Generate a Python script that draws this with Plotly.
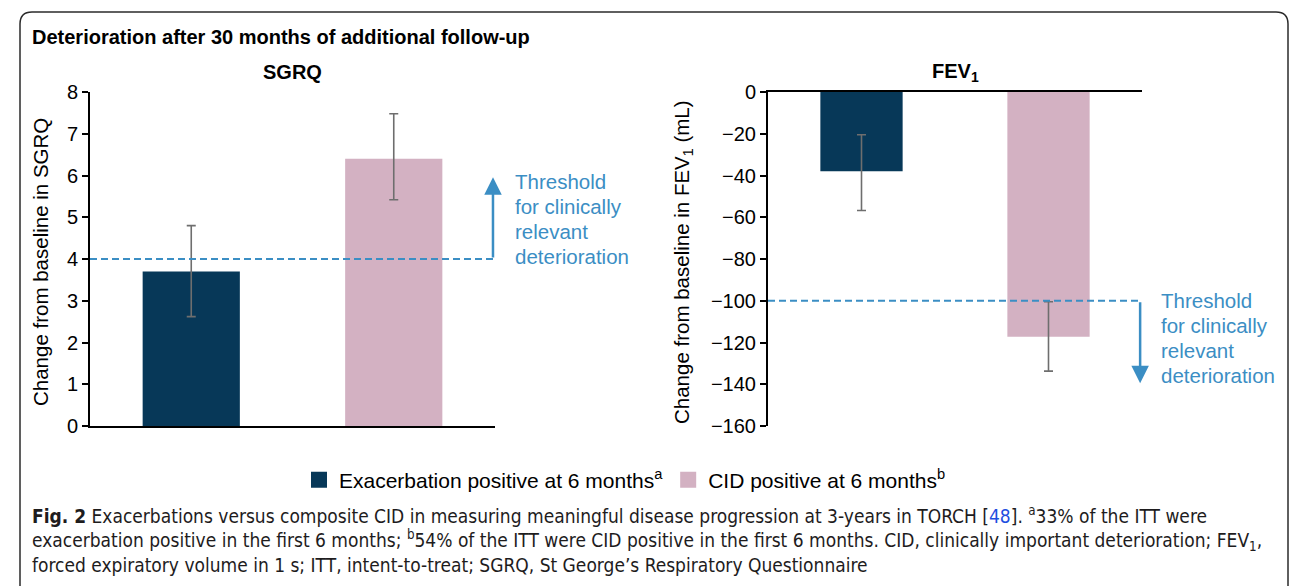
import plotly.graph_objects as go

# ---------------- data ----------------
groups = ["Exacerbation positive at 6 months", "CID positive at 6 months"]
legend_labels = ["Exacerbation positive at 6 months<sup>a</sup>", "CID positive at 6 months<sup>b</sup>"]
colors = ["#073858", "#D3B1C2"]

sgrq_values = [3.7, 6.4]
sgrq_ci_low = [2.62, 5.42]
sgrq_ci_high = [4.80, 7.48]

fev_values = [-38.0, -117.3]
fev_ci_low = [-56.8, -133.7]
fev_ci_high = [-20.5, -100.5]

sgrq_threshold = 4
fev_threshold = -100
sgrq_ticks = [0, 1, 2, 3, 4, 5, 6, 7, 8]
fev_ticks = [0, -20, -40, -60, -80, -100, -120, -140, -160]

W, H = 1290, 586
def px(x):
    return x / W
def py(y):
    return 1 - y / H

BLUE = "#3B8EC4"
FONT = "Liberation Sans, Arial, sans-serif"
CAPFONT = "DejaVu Sans Condensed, Liberation Sans Narrow, Arial Narrow, sans-serif"

fig = go.Figure()

for i, g in enumerate(groups):
    fig.add_trace(go.Bar(
        x=[g], y=[sgrq_values[i]], width=0.48, marker=dict(color=colors[i], line=dict(width=0)),
        error_y=dict(type="data", symmetric=False,
                     array=[sgrq_ci_high[i] - sgrq_values[i]],
                     arrayminus=[sgrq_values[i] - sgrq_ci_low[i]],
                     color="#6E6E6E", thickness=1.6, width=4.5),
        xaxis="x", yaxis="y", showlegend=False, legendgroup=g, name=g))
    fig.add_trace(go.Bar(
        x=[g], y=[fev_values[i]], width=0.44, marker=dict(color=colors[i], line=dict(width=0)),
        error_y=dict(type="data", symmetric=False,
                     array=[fev_ci_high[i] - fev_values[i]],
                     arrayminus=[fev_values[i] - fev_ci_low[i]],
                     color="#6E6E6E", thickness=1.6, width=4.5),
        xaxis="x2", yaxis="y2", showlegend=False, legendgroup=g, name=g))

# legend-only entries (bigger square swatches)
for i, g in enumerate(groups):
    fig.add_trace(go.Scatter(
        x=[None], y=[None], mode="markers", name=legend_labels[i], legendgroup=g,
        marker=dict(symbol="square", size=16, color=colors[i]), xaxis="x", yaxis="y"))

axis_common = dict(showgrid=False, zeroline=False, showline=True, linecolor="black",
                   linewidth=2, automargin=False)

fig.update_layout(
    width=W, height=H,
    margin=dict(l=0, r=0, t=0, b=0),
    paper_bgcolor="white", plot_bgcolor="white",
    barmode="overlay",
    font=dict(family=FONT, size=20, color="black"),
    xaxis=dict(domain=[px(90), px(495)], range=[-0.5, 1.5], type="category",
               categoryorder="array", categoryarray=groups,
               showticklabels=False, ticks="", anchor="y", **axis_common),
    yaxis=dict(domain=[py(426), py(92)], range=[0, 8], tickvals=sgrq_ticks,
               ticks="outside", ticklen=6, tickwidth=1.5, tickcolor="black",
               tickfont=dict(size=20), anchor="x", **axis_common),
    xaxis2=dict(domain=[px(768), px(1142)], range=[-0.5, 1.5], type="category",
                categoryorder="array", categoryarray=groups,
                showticklabels=False, ticks="", side="top", anchor="y2", **axis_common),
    yaxis2=dict(domain=[py(426), py(92)], range=[-160, 0], tickvals=fev_ticks,
                ticks="outside", ticklen=6, tickwidth=1.5, tickcolor="black",
                tickfont=dict(size=20), anchor="x2", **axis_common),
    legend=dict(orientation="h", x=px(625), y=py(480), xanchor="center", yanchor="middle",
                font=dict(size=21, family=FONT), bgcolor="rgba(0,0,0,0)",
                itemclick=False, itemdoubleclick=False, tracegroupgap=0),
    showlegend=True,
)

shapes = []
# threshold dashed lines
shapes.append(dict(type="line", xref="x", yref="y", x0=-0.5, x1=1.49,
                   y0=sgrq_threshold, y1=sgrq_threshold,
                   line=dict(color=BLUE, width=2, dash="7px,4px")))
shapes.append(dict(type="line", xref="x2", yref="y2", x0=-0.5, x1=1.49,
                   y0=fev_threshold, y1=fev_threshold,
                   line=dict(color=BLUE, width=2, dash="7px,4px")))
# rounded frame
x0, y0, x1, y1, r = px(20), py(12), px(1288), py(600), 12
rx, ry = r / W, r / H
path = (f"M {x0},{y1} L {x0},{y0 - ry} Q {x0},{y0} {x0 + rx},{y0} "
        f"L {x1 - rx},{y0} Q {x1},{y0} {x1},{y0 - ry} L {x1},{y1}")
shapes.append(dict(type="path", xref="paper", yref="paper", path=path,
                   line=dict(color="#2b2b2b", width=1.5)))
fig.update_layout(shapes=shapes)

ann = []
# arrows
ann.append(dict(x=1.49, y=5.96, ax=1.49, ay=sgrq_threshold, xref="x", yref="y",
                axref="x", ayref="y", text="", showarrow=True, arrowhead=2,
                arrowsize=1.4, arrowwidth=2.5, arrowcolor=BLUE, standoff=0))
ann.append(dict(x=1.49, y=-139.5, ax=1.49, ay=fev_threshold, xref="x2", yref="y2",
                axref="x2", ayref="y2", text="", showarrow=True, arrowhead=2,
                arrowsize=1.4, arrowwidth=2.5, arrowcolor=BLUE, standoff=0))

thr_lines = ["Threshold", "for clinically", "relevant", "deterioration"]
for k, t in enumerate(thr_lines):
    ann.append(dict(x=px(513), y=py(181 + 25 * k), xref="paper", yref="paper", text=t,
                    showarrow=False, xanchor="left", yanchor="middle",
                    font=dict(size=20.5, color=BLUE, family=FONT)))
    ann.append(dict(x=px(1159), y=py(300 + 25 * k), xref="paper", yref="paper", text=t,
                    showarrow=False, xanchor="left", yanchor="middle",
                    font=dict(size=20.5, color=BLUE, family=FONT)))

# titles
ann.append(dict(x=px(30), y=py(37), xref="paper", yref="paper",
                text="<b>Deterioration after 30 months of additional follow-up</b>",
                showarrow=False, xanchor="left", yanchor="middle", font=dict(size=20)))
ann.append(dict(x=px(292), y=py(72), xref="paper", yref="paper", text="<b>SGRQ</b>",
                showarrow=False, xanchor="center", yanchor="middle", font=dict(size=20)))
ann.append(dict(x=px(955), y=py(72), xref="paper", yref="paper", text="<b>FEV<sub>1</sub></b>",
                showarrow=False, xanchor="center", yanchor="middle", font=dict(size=20)))
# axis titles
ann.append(dict(x=px(40), y=py(262), xref="paper", yref="paper",
                text="Change from baseline in SGRQ", textangle=-90,
                showarrow=False, xanchor="center", yanchor="middle", font=dict(size=20.5)))
ann.append(dict(x=px(683), y=py(262), xref="paper", yref="paper",
                text="Change from baseline in FEV<sub>1</sub> (mL)", textangle=-90,
                showarrow=False, xanchor="center", yanchor="middle", font=dict(size=20.5)))

# caption
cap = [
    "<b>Fig. 2</b> Exacerbations versus composite CID in measuring meaningful disease progression at 3-years in TORCH [<span style='color:#1F4FE0'>48</span>]. <sup>a</sup>33% of the ITT were",
    "exacerbation positive in the first 6 months; <sup>b</sup>54% of the ITT were CID positive in the first 6 months. CID, clinically important deterioration; FEV<sub>1</sub>,",
    "forced expiratory volume in 1 s; ITT, intent-to-treat; SGRQ, St George\u2019s Respiratory Questionnaire",
]
for k, t in enumerate(cap):
    ann.append(dict(x=px(30), y=py(515 + 25 * k), xref="paper", yref="paper", text=t,
                    showarrow=False, xanchor="left", yanchor="middle",
                    font=dict(size=19, family=CAPFONT, color="#1E1C1D")))

fig.update_layout(annotations=ann)

fig.write_html(
    "out.html",
    config={"displayModeBar": False},
    post_script="document.body.style.margin='0';document.body.style.overflow='hidden';",
)
